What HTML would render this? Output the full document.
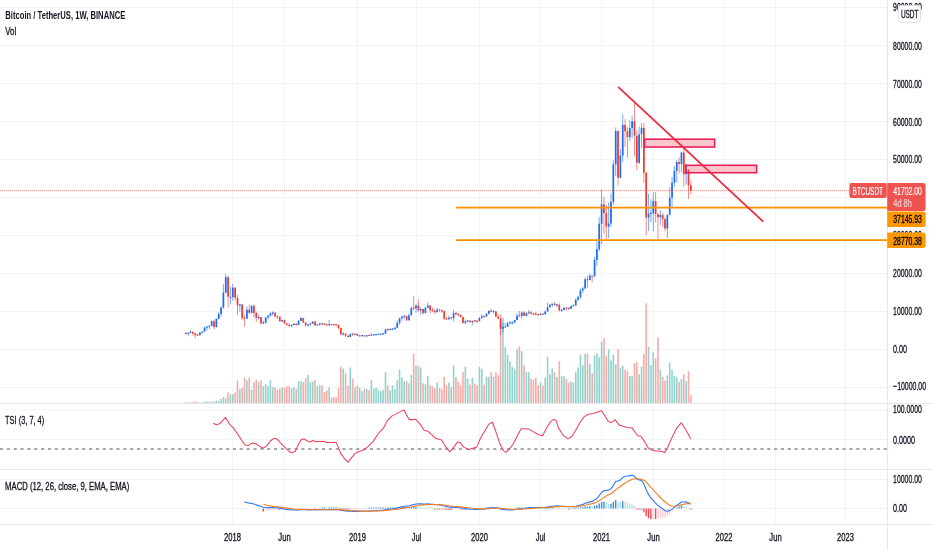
<!DOCTYPE html><html><head><meta charset="utf-8"><title>BTCUSDT</title><style>html,body{margin:0;padding:0;background:#fff}svg{display:block}</style></head><body><svg width="932" height="550" viewBox="0 0 932 550" font-family="Liberation Sans, sans-serif" font-size="11.7" fill="#131722">
<rect width="932" height="550" fill="#fff"/>
<path d="M232.5 0V524M284.5 0V524M357.5 0V524M416.5 0V524M479.5 0V524M540.5 0V524M601.5 0V524M653.5 0V524M724.0 0V524M775.5 0V524M845.5 0V524M0 387.5H887.5M0 349.5H887.5M0 311.5H887.5M0 273.5H887.5M0 235.5H887.5M0 197.5H887.5M0 159.5H887.5M0 121.5H887.5M0 83.5H887.5M0 45.5H887.5M0 7.5H887.5M0 410.0H887.5M0 439.5H887.5M0 479.5H887.5M0 508.5H887.5" stroke="#f2f4f6" stroke-width="1" fill="none"/>
<path d="M187.37 403.3v-0.8h1.6v0.8zM189.72 403.3v-0.8h1.6v0.8zM199.11 403.3v-0.8h1.6v0.8zM201.46 403.3v-0.8h1.6v0.8zM203.81 403.3v-1.5h1.6v1.5zM206.16 403.3v-1.7h1.6v1.7zM208.51 403.3v-1.5h1.6v1.5zM210.86 403.3v-1.5h1.6v1.5zM215.56 403.3v-2.5h1.6v2.5zM217.91 403.3v-2.2h1.6v2.2zM220.25 403.3v-4.2h1.6v4.2zM222.60 403.3v-6.0h1.6v6.0zM224.95 403.3v-5.0h1.6v5.0zM229.65 403.3v-9.0h1.6v9.0zM232.00 403.3v-9.0h1.6v9.0zM239.05 403.3v-14.0h1.6v14.0zM246.09 403.3v-23.0h1.6v23.0zM250.79 403.3v-13.5h1.6v13.5zM257.84 403.3v-21.0h1.6v21.0zM262.54 403.3v-17.0h1.6v17.0zM264.89 403.3v-19.0h1.6v19.0zM267.24 403.3v-17.0h1.6v17.0zM269.58 403.3v-23.0h1.6v23.0zM271.93 403.3v-16.0h1.6v16.0zM281.33 403.3v-16.0h1.6v16.0zM290.73 403.3v-15.0h1.6v15.0zM293.07 403.3v-16.0h1.6v16.0zM297.77 403.3v-22.0h1.6v22.0zM300.12 403.3v-22.0h1.6v22.0zM307.17 403.3v-28.2h1.6v28.2zM309.52 403.3v-21.0h1.6v21.0zM311.87 403.3v-21.8h1.6v21.8zM316.56 403.3v-17.0h1.6v17.0zM318.91 403.3v-18.0h1.6v18.0zM328.31 403.3v-16.0h1.6v16.0zM342.40 403.3v-34.8h1.6v34.8zM349.45 403.3v-35.8h1.6v35.8zM354.15 403.3v-16.0h1.6v16.0zM358.85 403.3v-15.5h1.6v15.5zM361.19 403.3v-12.0h1.6v12.0zM365.89 403.3v-14.5h1.6v14.5zM370.59 403.3v-23.0h1.6v23.0zM372.94 403.3v-14.5h1.6v14.5zM375.29 403.3v-15.5h1.6v15.5zM377.64 403.3v-13.5h1.6v13.5zM379.99 403.3v-12.0h1.6v12.0zM382.34 403.3v-13.5h1.6v13.5zM384.69 403.3v-31.0h1.6v31.0zM389.38 403.3v-13.0h1.6v13.0zM391.73 403.3v-18.0h1.6v18.0zM394.08 403.3v-14.0h1.6v14.0zM396.43 403.3v-23.0h1.6v23.0zM398.78 403.3v-33.8h1.6v33.8zM401.13 403.3v-25.8h1.6v25.8zM403.48 403.3v-22.0h1.6v22.0zM408.18 403.3v-20.0h1.6v20.0zM410.52 403.3v-28.2h1.6v28.2zM415.22 403.3v-37.5h1.6v37.5zM419.92 403.3v-35.8h1.6v35.8zM424.62 403.3v-19.0h1.6v19.0zM426.97 403.3v-27.0h1.6v27.0zM436.36 403.3v-20.8h1.6v20.8zM448.11 403.3v-20.8h1.6v20.8zM452.81 403.3v-37.5h1.6v37.5zM464.55 403.3v-36.5h1.6v36.5zM466.90 403.3v-24.5h1.6v24.5zM471.60 403.3v-25.5h1.6v25.5zM478.65 403.3v-36.5h1.6v36.5zM480.99 403.3v-34.5h1.6v34.5zM485.69 403.3v-26.5h1.6v26.5zM488.04 403.3v-26.5h1.6v26.5zM492.74 403.3v-26.5h1.6v26.5zM502.14 403.3v-85.5h1.6v85.5zM504.48 403.3v-56.0h1.6v56.0zM506.83 403.3v-48.5h1.6v48.5zM509.18 403.3v-42.0h1.6v42.0zM511.53 403.3v-36.5h1.6v36.5zM513.88 403.3v-34.5h1.6v34.5zM516.23 403.3v-54.0h1.6v54.0zM520.93 403.3v-52.0h1.6v52.0zM525.62 403.3v-31.0h1.6v31.0zM527.97 403.3v-31.0h1.6v31.0zM539.72 403.3v-20.8h1.6v20.8zM544.42 403.3v-25.5h1.6v25.5zM546.77 403.3v-46.8h1.6v46.8zM549.12 403.3v-29.0h1.6v29.0zM551.46 403.3v-34.8h1.6v34.8zM556.16 403.3v-26.5h1.6v26.5zM560.86 403.3v-27.0h1.6v27.0zM563.21 403.3v-27.0h1.6v27.0zM570.26 403.3v-21.8h1.6v21.8zM572.61 403.3v-20.8h1.6v20.8zM574.95 403.3v-31.0h1.6v31.0zM577.30 403.3v-35.8h1.6v35.8zM579.65 403.3v-48.7h1.6v48.7zM582.00 403.3v-38.0h1.6v38.0zM584.35 403.3v-49.5h1.6v49.5zM589.05 403.3v-39.0h1.6v39.0zM593.75 403.3v-47.8h1.6v47.8zM596.10 403.3v-50.0h1.6v50.0zM598.44 403.3v-46.0h1.6v46.0zM600.79 403.3v-61.6h1.6v61.6zM607.84 403.3v-54.0h1.6v54.0zM610.19 403.3v-43.0h1.6v43.0zM612.54 403.3v-48.6h1.6v48.6zM614.89 403.3v-39.0h1.6v39.0zM619.59 403.3v-35.6h1.6v35.6zM621.93 403.3v-37.6h1.6v37.6zM628.98 403.3v-27.4h1.6v27.4zM631.33 403.3v-27.4h1.6v27.4zM638.38 403.3v-29.0h1.6v29.0zM640.73 403.3v-36.6h1.6v36.6zM647.77 403.3v-56.6h1.6v56.6zM650.12 403.3v-38.4h1.6v38.4zM652.47 403.3v-51.0h1.6v51.0zM659.52 403.3v-33.6h1.6v33.6zM666.57 403.3v-28.0h1.6v28.0zM668.91 403.3v-41.0h1.6v41.0zM671.26 403.3v-33.6h1.6v33.6zM673.61 403.3v-27.4h1.6v27.4zM675.96 403.3v-26.0h1.6v26.0zM680.66 403.3v-24.4h1.6v24.4zM685.36 403.3v-22.0h1.6v22.0z" fill="#93d2cc"/>
<path d="M185.02 403.3v-1.0h1.6v1.0zM192.07 403.3v-1.0h1.6v1.0zM194.42 403.3v-1.7h1.6v1.7zM196.76 403.3v-1.0h1.6v1.0zM213.21 403.3v-1.7h1.6v1.7zM227.30 403.3v-10.8h1.6v10.8zM234.35 403.3v-10.8h1.6v10.8zM236.70 403.3v-22.8h1.6v22.8zM241.40 403.3v-15.5h1.6v15.5zM243.75 403.3v-25.5h1.6v25.5zM248.44 403.3v-25.5h1.6v25.5zM253.14 403.3v-21.0h1.6v21.0zM255.49 403.3v-23.7h1.6v23.7zM260.19 403.3v-23.0h1.6v23.0zM274.28 403.3v-16.0h1.6v16.0zM276.63 403.3v-13.5h1.6v13.5zM278.98 403.3v-14.5h1.6v14.5zM283.68 403.3v-15.5h1.6v15.5zM286.03 403.3v-17.0h1.6v17.0zM288.38 403.3v-17.0h1.6v17.0zM295.42 403.3v-14.5h1.6v14.5zM302.47 403.3v-21.0h1.6v21.0zM304.82 403.3v-24.8h1.6v24.8zM314.21 403.3v-23.0h1.6v23.0zM321.26 403.3v-18.0h1.6v18.0zM323.61 403.3v-11.0h1.6v11.0zM325.96 403.3v-12.8h1.6v12.8zM330.66 403.3v-6.0h1.6v6.0zM333.01 403.3v-6.0h1.6v6.0zM335.36 403.3v-6.0h1.6v6.0zM337.70 403.3v-15.5h1.6v15.5zM340.05 403.3v-36.8h1.6v36.8zM344.75 403.3v-30.0h1.6v30.0zM347.10 403.3v-18.0h1.6v18.0zM351.80 403.3v-24.8h1.6v24.8zM356.50 403.3v-18.0h1.6v18.0zM363.54 403.3v-14.5h1.6v14.5zM368.24 403.3v-13.0h1.6v13.0zM387.03 403.3v-18.0h1.6v18.0zM405.83 403.3v-22.0h1.6v22.0zM412.87 403.3v-49.5h1.6v49.5zM417.57 403.3v-37.5h1.6v37.5zM422.27 403.3v-20.0h1.6v20.0zM429.32 403.3v-18.0h1.6v18.0zM431.67 403.3v-17.0h1.6v17.0zM434.01 403.3v-15.0h1.6v15.0zM438.71 403.3v-15.5h1.6v15.5zM441.06 403.3v-14.0h1.6v14.0zM443.41 403.3v-26.2h1.6v26.2zM445.76 403.3v-18.0h1.6v18.0zM450.46 403.3v-16.0h1.6v16.0zM455.16 403.3v-26.2h1.6v26.2zM457.50 403.3v-21.8h1.6v21.8zM459.85 403.3v-18.0h1.6v18.0zM462.20 403.3v-31.0h1.6v31.0zM469.25 403.3v-18.8h1.6v18.8zM473.95 403.3v-19.8h1.6v19.8zM476.30 403.3v-18.0h1.6v18.0zM483.34 403.3v-18.8h1.6v18.8zM490.39 403.3v-31.0h1.6v31.0zM495.09 403.3v-31.0h1.6v31.0zM497.44 403.3v-28.0h1.6v28.0zM499.79 403.3v-89.0h1.6v89.0zM518.58 403.3v-57.0h1.6v57.0zM523.28 403.3v-37.5h1.6v37.5zM530.32 403.3v-24.5h1.6v24.5zM532.67 403.3v-23.5h1.6v23.5zM535.02 403.3v-25.5h1.6v25.5zM537.37 403.3v-18.0h1.6v18.0zM542.07 403.3v-18.0h1.6v18.0zM553.81 403.3v-31.0h1.6v31.0zM558.51 403.3v-42.0h1.6v42.0zM565.56 403.3v-24.5h1.6v24.5zM567.91 403.3v-20.8h1.6v20.8zM586.70 403.3v-49.5h1.6v49.5zM591.40 403.3v-30.0h1.6v30.0zM603.14 403.3v-65.0h1.6v65.0zM605.49 403.3v-47.0h1.6v47.0zM617.24 403.3v-54.0h1.6v54.0zM624.28 403.3v-33.6h1.6v33.6zM626.63 403.3v-32.6h1.6v32.6zM633.68 403.3v-40.0h1.6v40.0zM636.03 403.3v-41.0h1.6v41.0zM643.08 403.3v-49.6h1.6v49.6zM645.42 403.3v-100.0h1.6v100.0zM654.82 403.3v-45.0h1.6v45.0zM657.17 403.3v-66.0h1.6v66.0zM661.87 403.3v-26.6h1.6v26.6zM664.22 403.3v-22.6h1.6v22.6zM678.31 403.3v-21.6h1.6v21.6zM683.01 403.3v-29.0h1.6v29.0zM687.71 403.3v-32.0h1.6v32.0zM690.06 403.3v-8.0h1.6v8.0z" fill="#f8aaa7"/>
<path d="M188.17 332.27V336.28M190.52 330.43V333.53M199.91 332.46V335.32M202.26 331.50V333.58M204.61 326.70V331.91M206.96 325.75V330.06M209.31 325.68V329.11M211.66 320.36V326.29M216.36 318.33V327.54M218.71 312.07V319.56M221.06 306.26V316.82M223.40 283.82V308.84M225.75 273.97V293.47M230.45 286.51V304.55M232.80 283.93V300.75M239.85 303.88V311.58M246.89 306.45V319.06M251.59 305.25V313.67M258.64 314.33V319.62M263.34 320.62V324.27M265.69 317.17V324.08M268.04 314.87V319.46M270.38 312.12V316.52M272.73 311.34V315.72M282.13 319.61V322.48M291.53 324.46V327.22M293.87 323.22V325.37M298.57 319.98V325.15M300.92 316.93V321.27M307.97 324.04V326.86M310.32 322.98V325.56M312.67 321.46V323.93M317.36 324.12V325.70M319.71 323.20V325.64M329.11 320.02V325.45M343.20 332.29V335.52M350.25 333.25V337.12M354.95 333.66V335.41M359.65 335.06V336.13M362.00 335.44V336.15M366.69 335.05V336.36M371.39 333.25V335.48M373.74 334.38V335.22M376.09 334.04V335.25M378.44 333.81V334.76M380.79 333.71V334.38M383.14 333.47V334.57M385.49 328.89V333.70M390.18 328.83V330.39M392.53 327.84V330.01M394.88 327.01V329.82M397.23 320.37V328.07M399.58 317.53V324.88M401.93 315.99V320.91M404.28 314.66V318.95M408.98 313.53V320.70M411.32 306.58V315.38M416.02 303.60V312.67M420.72 307.10V314.81M425.42 306.98V313.67M427.77 302.38V307.78M437.16 307.78V312.34M448.91 315.76V319.71M453.61 309.79V321.46M465.35 319.29V324.44M467.70 320.09V322.30M472.40 320.89V324.75M479.45 317.07V321.31M481.79 314.29V318.80M486.49 312.83V316.79M488.84 310.52V314.47M493.54 310.25V313.48M502.94 322.98V332.48M505.28 322.76V327.54M507.63 321.84V326.97M509.98 320.85V323.55M512.33 321.46V324.69M514.68 319.80V323.55M517.03 313.25V320.21M521.73 311.39V318.42M526.42 312.19V316.41M528.77 309.76V313.97M540.52 313.19V315.38M545.22 310.63V314.51M547.57 303.13V311.58M549.91 303.79V307.59M552.26 303.33V306.93M556.96 304.17V307.02M561.66 309.00V311.87M564.01 306.72V310.36M571.06 305.54V309.20M573.40 304.63V306.75M575.75 298.47V305.88M578.10 295.62V300.64M580.45 288.51V299.04M582.80 286.58V292.96M585.15 277.13V288.89M589.85 273.52V280.42M594.55 256.86V277.00M596.89 241.20V265.98M599.24 216.96V251.16M601.59 189.79V243.94M608.64 202.78V238.08M610.99 193.57V226.48M613.34 160.31V204.85M615.69 127.46V176.03M620.38 149.17V178.39M622.73 114.19V161.96M629.78 120.44V140.96M632.13 115.50V138.40M639.18 126.71V163.94M641.53 123.10V148.18M648.57 194.00V230.98M650.92 199.19V222.36M653.27 192.15V231.40M660.32 210.12V224.94M667.37 214.69V237.94M669.71 187.32V215.42M672.06 177.02V207.34M674.41 166.25V186.64M676.76 159.88V182.17M681.46 151.98V172.45M686.16 163.60V184.39" stroke="#1f6cf3" stroke-width="0.8" stroke-opacity="0.75" fill="none"/>
<path d="M187.32 332.65H189.02V333.85H187.32zM189.67 331.84H191.37V333.04H189.67zM199.06 332.56H200.76V335.29H199.06zM201.41 331.47H203.11V332.67H201.41zM203.76 327.50H205.46V331.57H203.76zM206.11 326.45H207.81V327.65H206.11zM208.46 325.57H210.16V326.77H208.46zM210.81 321.29H212.51V325.75H210.81zM215.51 318.77H217.21V327.12H215.51zM217.86 313.97H219.56V318.77H217.86zM220.21 307.49H221.91V313.97H220.21zM222.55 292.58H224.25V307.49H222.55zM224.90 277.17H226.60V292.58H224.90zM229.60 296.89H231.30V298.09H229.60zM231.95 287.83H233.65V297.08H231.95zM239.00 304.35H240.70V305.55H239.00zM246.04 309.74H247.74V318.56H246.04zM250.74 305.64H252.44V312.76H250.74zM257.79 316.99H259.49V318.19H257.79zM262.49 322.32H264.19V323.52H262.49zM264.84 317.52H266.54V322.54H264.84zM267.19 315.81H268.89V317.52H267.19zM269.53 313.51H271.23V315.81H269.53zM271.88 312.46H273.58V313.66H271.88zM281.28 319.93H282.98V321.32H281.28zM290.68 324.87H292.38V326.07H290.68zM293.02 323.69H294.72V325.10H293.02zM297.72 321.10H299.42V325.07H297.72zM300.07 317.98H301.77V321.10H300.07zM307.12 324.31H308.82V325.51H307.12zM309.47 323.58H311.17V324.78H309.47zM311.82 321.52H313.52V323.78H311.82zM316.51 324.42H318.21V325.62H316.51zM318.86 323.54H320.56V324.74H318.86zM328.26 324.30H329.96V325.50H328.26zM342.35 333.33H344.05V334.53H342.35zM349.40 334.26H351.10V337.09H349.40zM354.10 333.66H355.80V334.86H354.10zM358.80 335.21H360.50V336.41H358.80zM361.14 335.12H362.85V336.32H361.14zM365.84 335.18H367.54V336.38H365.84zM370.54 334.61H372.24V335.81H370.54zM372.89 334.32H374.59V335.52H372.89zM375.24 333.99H376.94V335.19H375.24zM377.59 333.64H379.29V334.84H377.59zM379.94 333.50H381.64V334.70H379.94zM382.29 333.26H383.99V334.46H382.29zM384.63 329.55H386.34V333.65H384.63zM389.33 328.86H391.03V330.06H389.33zM391.68 328.58H393.38V329.78H391.68zM394.03 327.66H395.73V329.14H394.03zM396.38 322.72H398.08V327.66H396.38zM398.73 318.20H400.43V322.72H398.73zM401.08 316.47H402.78V318.20H401.08zM403.43 315.65H405.13V316.85H403.43zM408.12 315.15H409.83V320.22H408.12zM410.47 308.11H412.17V315.15H410.47zM415.17 305.59H416.87V308.30H415.17zM419.87 308.97H421.57V310.48H419.87zM424.57 307.67H426.27V312.99H424.57zM426.92 305.39H428.62V307.67H426.92zM436.31 309.75H438.01V312.25H436.31zM448.06 317.72H449.76V319.35H448.06zM452.76 312.99H454.46V317.95H452.76zM464.50 321.14H466.20V322.97H464.50zM466.85 320.30H468.55V321.50H466.85zM471.55 320.70H473.25V322.15H471.55zM478.60 318.10H480.30V321.24H478.60zM480.94 316.14H482.64V318.10H480.94zM485.64 313.74H487.34V316.49H485.64zM487.99 310.63H489.69V313.74H487.99zM492.69 310.88H494.39V312.08H492.69zM502.09 327.10H503.79V328.83H502.09zM504.43 326.38H506.13V327.58H504.43zM506.78 323.47H508.48V326.85H506.78zM509.13 322.62H510.83V323.82H509.13zM511.48 321.95H513.18V323.15H511.48zM513.83 319.97H515.53V322.14H513.83zM516.18 315.40H517.88V319.97H516.18zM520.88 312.46H522.58V316.06H520.88zM525.57 313.30H527.27V316.08H525.57zM527.92 312.13H529.62V313.33H527.92zM539.67 313.69H541.37V314.89H539.67zM544.37 311.46H546.07V314.21H544.37zM546.72 307.13H548.42V311.46H546.72zM549.06 304.81H550.76V307.13H549.06zM551.41 303.78H553.11V304.98H551.41zM556.11 304.22H557.81V305.42H556.11zM560.81 309.49H562.51V310.69H560.81zM563.16 307.70H564.86V309.95H563.16zM570.21 306.00H571.91V308.67H570.21zM572.55 305.14H574.25V306.34H572.55zM574.90 299.70H576.60V305.49H574.90zM577.25 296.91H578.95V299.70H577.25zM579.60 290.39H581.30V296.91H579.60zM581.95 288.56H583.65V290.39H581.95zM584.30 279.23H586.00V288.56H584.30zM589.00 275.64H590.70V280.10H589.00zM593.70 260.07H595.40V276.34H593.70zM596.04 249.33H597.75V260.07H596.04zM598.39 223.80H600.09V249.33H598.39zM600.74 204.23H602.44V223.80H600.74zM607.79 223.45H609.49V226.61H607.79zM610.14 201.78H611.84V223.45H610.14zM612.49 164.61H614.19V201.78H612.49zM614.84 131.05H616.54V164.61H614.84zM619.53 155.51H621.24V177.69H619.53zM621.88 125.12H623.58V155.51H621.88zM628.93 128.03H630.63V137.25H628.93zM631.28 121.21H632.98V128.03H631.28zM638.33 134.20H640.03V162.75H638.33zM640.68 127.89H642.38V134.20H640.68zM647.72 213.76H649.42V217.51H647.72zM650.07 212.87H651.77V214.07H650.07zM652.42 200.92H654.12V213.18H652.42zM659.47 215.11H661.17V217.34H659.47zM666.51 214.75H668.22V228.44H666.51zM668.86 197.79H670.56V214.75H668.86zM671.21 182.78H672.91V197.79H671.21zM673.56 170.63H675.26V182.78H673.56zM675.91 162.09H677.61V170.63H675.91zM680.61 152.53H682.31V163.89H680.61zM685.31 169.68H687.01V174.30H685.31z" fill="#1f6cf3"/>
<path d="M185.82 332.16V334.57M192.87 331.01V335.51M195.22 332.50V338.50M197.56 333.53V335.88M214.01 319.67V328.96M228.10 275.86V307.55M235.15 287.18V300.51M237.50 295.05V314.87M242.20 304.13V319.94M244.55 314.75V326.40M249.24 304.41V313.94M253.94 304.76V317.55M256.29 311.63V321.69M260.99 316.90V324.77M275.08 312.49V317.95M277.43 315.46V319.08M279.78 316.54V321.79M284.48 319.64V323.94M286.83 322.94V325.89M289.18 323.20V327.24M296.22 323.29V326.13M303.27 317.76V323.05M305.62 321.99V326.51M315.01 321.04V325.98M322.06 323.36V325.16M324.41 323.74V324.88M326.76 323.66V326.02M331.46 324.31V324.99M333.81 324.50V325.64M336.16 324.04V325.26M338.50 324.69V329.25M340.85 327.84V335.32M345.55 333.32V336.96M347.90 335.37V337.21M352.60 333.05V335.71M357.30 333.73V336.03M364.34 335.63V336.47M369.04 335.14V335.75M387.83 328.41V330.58M406.63 315.76V320.91M413.67 296.11V310.06M418.37 299.24V311.75M423.07 308.58V314.62M430.12 305.20V313.23M432.47 307.59V312.15M434.81 308.69V313.78M439.51 309.38V311.77M441.86 309.76V312.72M444.21 311.01V319.94M446.56 316.77V319.94M451.26 317.24V319.56M455.96 311.47V315.19M458.30 313.10V316.29M460.65 314.71V317.47M463.00 316.86V323.40M470.05 320.13V322.60M474.75 319.98V322.41M477.10 320.72V323.16M484.14 315.97V317.98M491.19 309.30V312.34M495.89 311.20V317.28M498.24 314.29V318.80M500.59 318.12V334.83M519.38 310.95V316.82M524.08 311.35V315.76M531.12 311.20V314.70M533.47 312.76V315.34M535.82 312.04V315.38M538.17 313.86V315.65M542.87 313.71V315.00M554.61 301.82V305.99M559.31 303.41V311.68M566.36 307.44V310.71M568.71 307.59V309.79M587.50 275.16V287.64M592.20 275.40V282.32M603.94 196.82V233.60M606.29 204.99V239.57M618.04 130.41V185.74M625.08 118.79V146.96M627.43 127.11V158.04M634.48 102.75V155.66M636.83 130.32V170.43M643.88 123.10V182.66M646.22 171.79V235.20M655.62 192.15V222.52M657.97 213.35V239.74M662.67 212.63V227.31M665.02 217.42V231.32M679.11 157.30V173.45M683.81 148.10V186.40M688.51 169.28V198.72M690.86 180.67V194.35" stroke="#ee3a31" stroke-width="0.8" stroke-opacity="0.75" fill="none"/>
<path d="M184.97 332.74H186.67V333.94H184.97zM192.02 332.07H193.72V333.51H192.02zM194.37 333.51H196.07V335.14H194.37zM196.72 334.62H198.41V335.82H196.72zM213.16 321.29H214.86V327.12H213.16zM227.25 277.17H228.95V296.64H227.25zM234.30 287.83H236.00V298.00H234.30zM236.65 298.00H238.35V305.39H236.65zM241.35 304.51H243.05V317.97H241.35zM243.70 317.67H245.40V318.87H243.70zM248.39 309.74H250.09V312.76H248.39zM253.09 305.64H254.79V312.97H253.09zM255.44 312.97H257.14V318.08H255.44zM260.14 317.09H261.84V323.31H260.14zM274.23 312.61H275.93V316.18H274.23zM276.58 315.92H278.28V317.12H276.58zM278.93 316.85H280.63V321.32H278.93zM283.63 319.93H285.33V323.47H283.63zM285.98 323.47H287.68V324.69H285.98zM288.33 324.66H290.03V325.86H288.33zM295.37 323.69H297.07V325.07H295.37zM302.42 317.98H304.12V322.50H302.42zM304.77 322.50H306.47V325.23H304.77zM314.16 321.52H315.87V325.50H314.16zM321.21 323.32H322.91V324.52H321.21zM323.56 323.54H325.26V324.74H323.56zM325.91 324.13H327.61V325.33H325.91zM330.61 323.98H332.31V325.18H330.61zM332.96 324.11H334.66V325.31H332.96zM335.31 324.24H337.01V325.44H335.31zM337.65 324.91H339.36V328.09H337.65zM340.00 328.09H341.70V334.27H340.00zM344.70 333.59H346.40V335.73H344.70zM347.05 335.73H348.75V337.09H347.05zM351.75 333.87H353.45V335.07H351.75zM356.45 333.85H358.15V335.87H356.45zM363.49 335.35H365.19V336.55H363.49zM368.19 334.77H369.89V335.97H368.19zM386.98 329.03H388.68V330.23H386.98zM405.78 316.04H407.48V320.22H405.78zM412.82 307.61H414.52V308.81H412.82zM417.52 305.59H419.22V310.48H417.52zM422.22 308.97H423.92V312.99H422.22zM429.27 305.39H430.97V310.04H429.27zM431.62 309.76H433.32V310.96H431.62zM433.96 310.69H435.66V312.25H433.96zM438.66 309.30H440.36V310.50H438.66zM441.01 309.98H442.71V311.18H441.01zM443.36 311.11H445.06V318.65H443.36zM445.71 318.40H447.41V319.60H445.71zM450.41 317.24H452.11V318.44H450.41zM455.11 312.99H456.81V314.22H455.11zM457.45 313.95H459.15V315.15H457.45zM459.80 314.87H461.50V316.89H459.80zM462.15 316.89H463.85V322.97H462.15zM469.20 320.66H470.90V322.15H469.20zM473.90 320.31H475.60V321.51H473.90zM476.25 320.58H477.95V321.78H476.25zM483.29 315.71H484.99V316.91H483.29zM490.34 310.47H492.04V311.67H490.34zM495.04 311.44H496.74V316.81H495.04zM497.39 316.81H499.09V318.67H497.39zM499.74 318.67H501.44V328.83H499.74zM518.53 315.13H520.23V316.33H518.53zM523.23 312.46H524.93V316.08H523.23zM530.27 312.17H531.97V313.70H530.27zM532.62 313.19H534.32V314.39H532.62zM534.97 313.62H536.67V314.82H534.97zM537.32 314.05H539.02V315.25H537.32zM542.02 313.43H543.72V314.63H542.02zM553.76 303.84H555.46V305.04H553.76zM558.46 304.70H560.16V310.23H558.46zM565.51 307.38H567.21V308.58H565.51zM567.86 307.86H569.56V309.06H567.86zM586.65 279.06H588.35V280.26H586.65zM591.35 275.39H593.05V276.59H591.35zM603.09 204.23H604.79V213.05H603.09zM605.44 213.05H607.14V226.61H605.44zM617.19 131.05H618.89V177.69H617.19zM624.23 125.12H625.93V131.27H624.23zM626.58 131.27H628.28V137.25H626.58zM633.63 121.21H635.33V135.83H633.63zM635.98 135.83H637.68V162.75H635.98zM643.02 127.89H644.73V172.76H643.02zM645.37 172.76H647.07V217.51H645.37zM654.77 200.92H656.47V213.92H654.77zM657.12 213.92H658.82V217.34H657.12zM661.82 215.11H663.52V219.02H661.82zM664.17 219.02H665.87V228.44H664.17zM678.26 162.09H679.96V163.89H678.26zM682.96 152.53H684.66V174.30H682.96zM687.66 169.68H689.36V185.19H687.66zM690.00 185.19H691.71V190.73H690.00z" fill="#ee3a31"/>
<path d="M0 190.6H887.5" stroke="#ef5350" stroke-width="1" stroke-opacity="0.7" stroke-dasharray="1 1" fill="none"/>
<path d="M456 207.6H887.5M456 240.1H887.5" stroke="#ff9100" stroke-width="1.8" fill="none"/>
<rect x="644.6" y="139.2" width="70" height="7.8" fill="#f23645" fill-opacity="0.27" stroke="#e91e5c" stroke-width="1.6"/>
<rect x="685.8" y="165.3" width="70.8" height="7.4" fill="#f23645" fill-opacity="0.27" stroke="#e91e5c" stroke-width="1.6"/>
<path d="M618.1 86.8L763.2 221.7" stroke="#ee2a3e" stroke-width="1.8" fill="none"/>
<path d="M0 449H887.5" stroke="#858a9a" stroke-width="1.7" stroke-dasharray="3.1 3.75" fill="none"/>
<path d="M213.4 423.3L216.9 424.9L220.1 423.3L225.5 417.4L229.5 424.1L233.5 428.1L237.6 434.0L241.6 440.2L245.1 445.0L248.3 445.6L252.3 442.9L255.8 443.7L259.5 446.1L263.0 448.3L267.1 445.6L270.3 441.0L273.8 438.3L277.0 438.9L280.5 442.9L284.5 446.9L288.5 450.9L291.2 452.8L295.2 451.5L297.9 445.6L301.4 439.4L304.1 438.9L307.3 441.0L310.0 442.1L312.7 440.5L315.9 441.8L319.4 441.6L323.4 441.3L326.6 442.4L331.4 442.4L336.3 442.6L338.1 446.9L340.8 453.6L344.8 459.0L348.1 462.2L351.6 457.6L355.0 453.6L358.3 451.7L363.6 450.1L367.7 446.9L373.0 441.6L378.4 433.5L383.7 427.6L387.8 420.1L391.8 416.1L397.2 413.4L403.9 409.9L406.5 414.7L409.2 419.6L413.3 419.6L415.9 419.3L420.0 424.1L424.0 430.0L428.0 431.4L432.0 434.8L435.5 438.3L439.5 439.4L441.4 439.7L445.4 446.4L449.5 451.7L450.0 451.7L454.0 446.9L457.5 442.1L460.2 442.4L463.4 446.9L468.8 449.6L472.8 448.3L476.8 446.9L480.8 437.5L484.9 430.8L488.9 424.1L492.4 422.2L495.6 430.8L499.6 442.9L503.6 450.9L505.8 452.3L509.0 449.6L513.0 444.2L517.1 436.2L521.1 428.7L525.1 428.7L528.3 428.9L533.2 431.6L538.5 434.8L542.5 435.7L546.6 428.1L550.6 421.4L553.3 419.6L556.0 420.1L558.6 428.1L562.7 434.8L568.0 438.9L572.0 436.2L576.1 429.5L580.1 422.2L584.1 416.9L588.1 414.2L593.5 413.4L597.5 412.0L601.6 410.7L604.2 414.7L608.3 421.4L610.9 422.8L615.0 419.6L619.0 424.9L623.0 426.3L627.0 427.6L632.4 428.1L635.1 432.2L637.8 435.7L641.0 436.2L644.5 441.6L648.5 448.3L652.5 450.4L656.5 450.9L661.9 451.5L664.6 452.6L667.3 448.3L671.3 438.9L676.7 428.1L681.2 422.8L684.7 428.1L688.2 434.0L690.6 438.9" stroke="#f0405c" stroke-width="1.05" fill="none" stroke-linejoin="round"/>
<path d="M321.36 508.5v-0.90h1.4v0.90zM323.71 508.5v-0.90h1.4v0.90zM328.41 508.5v-0.90h1.4v0.90zM330.76 508.5v-0.90h1.4v0.90zM333.11 508.5v-0.90h1.4v0.90zM335.46 508.5v-0.90h1.4v0.90zM368.34 508.5v-0.90h1.4v0.90zM370.69 508.5v-0.90h1.4v0.90zM373.04 508.5v-0.90h1.4v0.90zM375.39 508.5v-0.90h1.4v0.90zM377.74 508.5v-0.90h1.4v0.90zM380.09 508.5v-0.90h1.4v0.90zM382.44 508.5v-0.90h1.4v0.90zM384.79 508.5v-0.90h1.4v0.90zM387.13 508.5v-0.90h1.4v0.90zM389.48 508.5v-0.91h1.4v0.91zM391.83 508.5v-0.93h1.4v0.93zM394.18 508.5v-0.97h1.4v0.97zM396.53 508.5v-1.20h1.4v1.20zM398.88 508.5v-1.52h1.4v1.52zM401.23 508.5v-1.73h1.4v1.73zM403.58 508.5v-1.79h1.4v1.79zM410.62 508.5v-1.78h1.4v1.78zM412.97 508.5v-1.82h1.4v1.82zM415.32 508.5v-1.87h1.4v1.87zM485.79 508.5v-0.90h1.4v0.90zM488.14 508.5v-0.90h1.4v0.90zM490.49 508.5v-0.90h1.4v0.90zM492.84 508.5v-0.90h1.4v0.90zM516.33 508.5v-0.90h1.4v0.90zM518.68 508.5v-0.90h1.4v0.90zM521.03 508.5v-0.90h1.4v0.90zM525.72 508.5v-0.90h1.4v0.90zM528.07 508.5v-0.90h1.4v0.90zM544.52 508.5v-0.90h1.4v0.90zM546.87 508.5v-0.90h1.4v0.90zM549.21 508.5v-0.90h1.4v0.90zM551.56 508.5v-0.93h1.4v0.93zM572.70 508.5v-0.90h1.4v0.90zM575.05 508.5v-0.90h1.4v0.90zM577.40 508.5v-0.90h1.4v0.90zM579.75 508.5v-1.05h1.4v1.05zM582.10 508.5v-1.36h1.4v1.36zM584.45 508.5v-1.92h1.4v1.92zM586.80 508.5v-2.09h1.4v2.09zM589.15 508.5v-2.28h1.4v2.28zM593.85 508.5v-2.81h1.4v2.81zM596.19 508.5v-3.53h1.4v3.53zM598.54 508.5v-5.02h1.4v5.02zM600.89 508.5v-6.59h1.4v6.59zM603.24 508.5v-6.71h1.4v6.71zM610.29 508.5v-4.87h1.4v4.87zM612.64 508.5v-6.43h1.4v6.43zM614.99 508.5v-8.59h1.4v8.59zM622.03 508.5v-7.25h1.4v7.25zM676.06 508.5v-0.90h1.4v0.90zM678.41 508.5v-1.79h1.4v1.79zM680.76 508.5v-2.86h1.4v2.86z" fill="#3a8fd6"/>
<path d="M326.06 508.5v-0.90h1.4v0.90zM405.93 508.5v-1.52h1.4v1.52zM408.28 508.5v-1.52h1.4v1.52zM417.67 508.5v-1.53h1.4v1.53zM420.02 508.5v-1.29h1.4v1.29zM422.37 508.5v-0.90h1.4v0.90zM424.72 508.5v-0.90h1.4v0.90zM427.07 508.5v-0.90h1.4v0.90zM429.42 508.5v-0.90h1.4v0.90zM431.77 508.5v-0.90h1.4v0.90zM495.19 508.5v-0.90h1.4v0.90zM497.54 508.5v-0.90h1.4v0.90zM523.38 508.5v-0.90h1.4v0.90zM530.42 508.5v-0.90h1.4v0.90zM532.77 508.5v-0.90h1.4v0.90zM535.12 508.5v-0.90h1.4v0.90zM537.47 508.5v-0.90h1.4v0.90zM539.82 508.5v-0.90h1.4v0.90zM542.17 508.5v-0.90h1.4v0.90zM553.91 508.5v-0.91h1.4v0.91zM556.26 508.5v-0.90h1.4v0.90zM558.61 508.5v-0.90h1.4v0.90zM560.96 508.5v-0.90h1.4v0.90zM563.31 508.5v-0.90h1.4v0.90zM565.66 508.5v-0.90h1.4v0.90zM591.50 508.5v-2.21h1.4v2.21zM605.59 508.5v-5.65h1.4v5.65zM607.94 508.5v-4.73h1.4v4.73zM617.34 508.5v-7.00h1.4v7.00zM619.68 508.5v-6.55h1.4v6.55zM624.38 508.5v-6.79h1.4v6.79zM626.73 508.5v-5.60h1.4v5.60zM629.08 508.5v-4.79h1.4v4.79zM631.43 508.5v-4.11h1.4v4.11zM633.78 508.5v-2.47h1.4v2.47zM683.11 508.5v-2.25h1.4v2.25zM685.46 508.5v-1.95h1.4v1.95zM687.81 508.5v-0.90h1.4v0.90z" fill="#b4e0da"/>
<path d="M264.99 508.5v2.53h1.4v-2.53zM267.34 508.5v2.12h1.4v-2.12zM269.68 508.5v1.65h1.4v-1.65zM272.03 508.5v1.26h1.4v-1.26zM274.38 508.5v1.14h1.4v-1.14zM276.73 508.5v1.06h1.4v-1.06zM281.43 508.5v1.16h1.4v-1.16zM290.83 508.5v1.28h1.4v-1.28zM293.17 508.5v1.09h1.4v-1.09zM295.52 508.5v0.97h1.4v-0.97zM297.87 508.5v0.90h1.4v-0.90zM300.22 508.5v0.90h1.4v-0.90zM302.57 508.5v0.90h1.4v-0.90zM307.27 508.5v0.90h1.4v-0.90zM309.62 508.5v0.90h1.4v-0.90zM311.97 508.5v0.90h1.4v-0.90zM316.66 508.5v0.90h1.4v-0.90zM319.01 508.5v0.90h1.4v-0.90zM349.55 508.5v0.90h1.4v-0.90zM351.90 508.5v0.90h1.4v-0.90zM354.25 508.5v0.90h1.4v-0.90zM356.60 508.5v0.90h1.4v-0.90zM358.95 508.5v0.90h1.4v-0.90zM361.30 508.5v0.90h1.4v-0.90zM363.64 508.5v0.90h1.4v-0.90zM365.99 508.5v0.90h1.4v-0.90zM452.91 508.5v1.07h1.4v-1.07zM455.26 508.5v0.92h1.4v-0.92zM457.60 508.5v0.90h1.4v-0.90zM467.00 508.5v1.11h1.4v-1.11zM469.35 508.5v1.10h1.4v-1.10zM471.70 508.5v0.97h1.4v-0.97zM474.05 508.5v0.90h1.4v-0.90zM476.40 508.5v0.90h1.4v-0.90zM478.75 508.5v0.90h1.4v-0.90zM481.09 508.5v0.90h1.4v-0.90zM483.44 508.5v0.90h1.4v-0.90zM506.93 508.5v0.90h1.4v-0.90zM509.28 508.5v0.90h1.4v-0.90zM511.63 508.5v0.90h1.4v-0.90zM513.98 508.5v0.90h1.4v-0.90zM570.36 508.5v0.90h1.4v-0.90zM652.57 508.5v10.45h1.4v-10.45zM657.27 508.5v10.30h1.4v-10.30zM659.62 508.5v9.64h1.4v-9.64zM661.97 508.5v9.02h1.4v-9.02zM664.32 508.5v8.71h1.4v-8.71zM666.66 508.5v7.43h1.4v-7.43zM669.01 508.5v5.43h1.4v-5.43zM671.36 508.5v3.18h1.4v-3.18zM673.71 508.5v1.01h1.4v-1.01z" fill="#fccdd2"/>
<path d="M262.64 508.5v2.90h1.4v-2.90zM279.08 508.5v1.19h1.4v-1.19zM283.78 508.5v1.26h1.4v-1.26zM286.13 508.5v1.33h1.4v-1.33zM288.48 508.5v1.36h1.4v-1.36zM304.92 508.5v0.90h1.4v-0.90zM314.31 508.5v0.90h1.4v-0.90zM337.81 508.5v0.90h1.4v-0.90zM340.15 508.5v0.90h1.4v-0.90zM342.50 508.5v0.90h1.4v-0.90zM344.85 508.5v0.90h1.4v-0.90zM347.20 508.5v0.91h1.4v-0.91zM434.11 508.5v0.90h1.4v-0.90zM436.46 508.5v0.90h1.4v-0.90zM438.81 508.5v0.90h1.4v-0.90zM441.16 508.5v0.90h1.4v-0.90zM443.51 508.5v0.96h1.4v-0.96zM445.86 508.5v1.27h1.4v-1.27zM448.21 508.5v1.35h1.4v-1.35zM450.56 508.5v1.36h1.4v-1.36zM459.95 508.5v0.90h1.4v-0.90zM462.30 508.5v1.12h1.4v-1.12zM464.65 508.5v1.16h1.4v-1.16zM499.89 508.5v0.90h1.4v-0.90zM502.24 508.5v0.90h1.4v-0.90zM504.58 508.5v1.04h1.4v-1.04zM568.01 508.5v0.90h1.4v-0.90zM636.13 508.5v0.90h1.4v-0.90zM638.48 508.5v0.90h1.4v-0.90zM640.83 508.5v1.13h1.4v-1.13zM643.17 508.5v3.75h1.4v-3.75zM645.52 508.5v7.69h1.4v-7.69zM647.87 508.5v9.81h1.4v-9.81zM650.22 508.5v10.81h1.4v-10.81zM654.92 508.5v10.50h1.4v-10.50zM690.15 508.5v0.90h1.4v-0.90z" fill="#f6454f"/>
<path d="M244.5 501.9L246.9 502.5L249.2 503.2L251.6 503.4L253.9 504.0L256.3 504.9L258.6 505.6L261.0 506.5L263.3 507.3L265.7 507.5L268.0 507.6L270.4 507.6L272.7 507.5L275.1 507.7L277.4 507.9L279.8 508.3L282.1 508.5L284.5 509.0L286.8 509.4L289.2 509.7L291.5 510.0L293.9 510.0L296.2 510.2L298.6 510.0L300.9 509.7L303.3 509.7L305.6 509.8L308.0 509.9L310.3 509.9L312.7 509.7L315.0 509.8L317.4 509.8L319.7 509.8L322.1 509.7L324.4 509.7L326.8 509.7L329.1 509.7L331.5 509.6L333.8 509.6L336.2 509.6L338.5 509.7L340.9 510.2L343.2 510.6L345.6 510.9L347.9 511.3L350.2 511.3L352.6 511.4L354.9 511.3L357.3 511.4L359.6 511.4L362.0 511.3L364.3 511.3L366.7 511.2L369.0 511.1L371.4 511.0L373.7 510.8L376.1 510.6L378.4 510.5L380.8 510.3L383.1 510.1L385.5 509.7L387.8 509.4L390.2 509.1L392.5 508.8L394.9 508.6L397.2 508.0L399.6 507.3L401.9 506.7L404.3 506.2L406.6 506.1L409.0 505.7L411.3 505.0L413.7 504.5L416.0 504.0L418.4 503.9L420.7 503.9L423.1 504.1L425.4 504.0L427.8 503.8L430.1 504.1L432.5 504.3L434.8 504.7L437.2 504.8L439.5 505.0L441.9 505.3L444.2 506.0L446.6 506.6L448.9 507.0L451.3 507.4L453.6 507.3L456.0 507.4L458.3 507.5L460.7 507.7L463.0 508.3L465.4 508.6L467.7 508.9L470.0 509.1L472.4 509.2L474.7 509.4L477.1 509.4L479.4 509.3L481.8 509.0L484.1 508.9L486.5 508.6L488.8 508.1L491.2 507.8L493.5 507.6L495.9 507.8L498.2 508.0L500.6 508.9L502.9 509.4L505.3 509.8L507.6 509.9L510.0 509.9L512.3 509.9L514.7 509.7L517.0 509.3L519.4 508.9L521.7 508.5L524.1 508.3L526.4 508.0L528.8 507.7L531.1 507.6L533.5 507.5L535.8 507.5L538.2 507.5L540.5 507.5L542.9 507.5L545.2 507.4L547.6 507.0L549.9 506.6L552.3 506.2L554.6 506.0L557.0 505.9L559.3 506.1L561.7 506.3L564.0 506.4L566.4 506.5L568.7 506.6L571.1 506.6L573.4 506.5L575.8 506.2L578.1 505.7L580.5 505.0L582.8 504.4L585.2 503.3L587.5 502.6L589.8 501.9L592.2 501.4L594.5 500.1L596.9 498.5L599.2 495.7L601.6 492.5L603.9 490.7L606.3 490.4L608.6 490.1L611.0 488.7L613.3 485.6L615.7 481.3L618.0 481.1L620.4 479.9L622.7 477.4L625.1 476.2L627.4 476.0L629.8 475.6L632.1 475.2L634.5 476.2L636.8 479.1L639.2 479.9L641.5 480.4L643.9 484.0L646.2 489.8L648.6 494.4L650.9 498.1L653.3 500.4L655.6 503.1L658.0 505.4L660.3 507.2L662.7 508.8L665.0 510.7L667.4 511.2L669.7 510.6L672.1 509.1L674.4 507.2L676.8 505.2L679.1 503.8L681.5 502.0L683.8 502.0L686.2 501.9L688.5 502.8L690.9 503.9" stroke="#3179f5" stroke-width="1.1" fill="none" stroke-linejoin="round"/>
<path d="M263.3 504.3L265.7 505.0L268.0 505.5L270.4 505.9L272.7 506.2L275.1 506.5L277.4 506.8L279.8 507.1L282.1 507.4L284.5 507.7L286.8 508.0L289.2 508.4L291.5 508.7L293.9 509.0L296.2 509.2L298.6 509.4L300.9 509.4L303.3 509.5L305.6 509.5L308.0 509.6L310.3 509.7L312.7 509.7L315.0 509.7L317.4 509.7L319.7 509.7L322.1 509.7L324.4 509.7L326.8 509.7L329.1 509.7L331.5 509.7L333.8 509.7L336.2 509.7L338.5 509.7L340.9 509.8L343.2 509.9L345.6 510.1L347.9 510.4L350.2 510.6L352.6 510.7L354.9 510.8L357.3 510.9L359.6 511.0L362.0 511.1L364.3 511.1L366.7 511.2L369.0 511.1L371.4 511.1L373.7 511.0L376.1 511.0L378.4 510.9L380.8 510.8L383.1 510.6L385.5 510.4L387.8 510.2L390.2 510.0L392.5 509.8L394.9 509.5L397.2 509.2L399.6 508.8L401.9 508.4L404.3 508.0L406.6 507.6L409.0 507.2L411.3 506.8L413.7 506.3L416.0 505.8L418.4 505.5L420.7 505.1L423.1 504.9L425.4 504.7L427.8 504.6L430.1 504.5L432.5 504.4L434.8 504.5L437.2 504.5L439.5 504.6L441.9 504.8L444.2 505.0L446.6 505.3L448.9 505.7L451.3 506.0L453.6 506.3L456.0 506.5L458.3 506.7L460.7 506.9L463.0 507.2L465.4 507.5L467.7 507.8L470.0 508.0L472.4 508.3L474.7 508.5L477.1 508.7L479.4 508.8L481.8 508.9L484.1 508.9L486.5 508.8L488.8 508.7L491.2 508.5L493.5 508.3L495.9 508.2L498.2 508.2L500.6 508.3L502.9 508.5L505.3 508.8L507.6 509.0L510.0 509.2L512.3 509.3L514.7 509.4L517.0 509.4L519.4 509.3L521.7 509.1L524.1 509.0L526.4 508.8L528.8 508.6L531.1 508.4L533.5 508.2L535.8 508.1L538.2 508.0L540.5 507.9L542.9 507.8L545.2 507.7L547.6 507.6L549.9 507.4L552.3 507.1L554.6 506.9L557.0 506.7L559.3 506.6L561.7 506.5L564.0 506.5L566.4 506.5L568.7 506.5L571.1 506.5L573.4 506.5L575.8 506.5L578.1 506.3L580.5 506.1L582.8 505.7L585.2 505.2L587.5 504.7L589.8 504.1L592.2 503.6L594.5 502.9L596.9 502.0L599.2 500.7L601.6 499.1L603.9 497.4L606.3 496.0L608.6 494.8L611.0 493.6L613.3 492.0L615.7 489.9L618.0 488.1L620.4 486.5L622.7 484.7L625.1 483.0L627.4 481.6L629.8 480.4L632.1 479.3L634.5 478.7L636.8 478.8L639.2 479.0L641.5 479.3L643.9 480.2L646.2 482.2L648.6 484.6L650.9 487.3L653.3 489.9L655.6 492.5L658.0 495.1L660.3 497.5L662.7 499.8L665.0 502.0L667.4 503.8L669.7 505.2L672.1 506.0L674.4 506.2L676.8 506.0L679.1 505.6L681.5 504.9L683.8 504.3L686.2 503.8L688.5 503.6L690.9 503.7" stroke="#f57c1f" stroke-width="1.1" fill="none" stroke-linejoin="round"/>
<rect x="887.5" y="0" width="44.5" height="550" fill="#fff"/>
<rect x="0" y="524" width="932" height="26" fill="#fff"/>
<path d="M887.5 0V550M0 524.5H932M0 403.5H932M0 469.5H932" stroke="#e5e7eb" stroke-width="1" fill="none"/>
<defs><filter id="idf" x="0" y="0" width="100%" height="100%" filterUnits="userSpaceOnUse" color-interpolation-filters="sRGB"><feOffset dx="0" dy="0"/></filter></defs><g filter="url(#idf)">
<text x="893.1" y="390.4" textLength="33.0" lengthAdjust="spacingAndGlyphs" stroke="#131722" stroke-width="0.35">−10000.00</text>
<text x="893.1" y="352.5" textLength="14.0" lengthAdjust="spacingAndGlyphs" stroke="#131722" stroke-width="0.35">0.00</text>
<text x="893.1" y="314.7" textLength="28.8" lengthAdjust="spacingAndGlyphs" stroke="#131722" stroke-width="0.35">10000.00</text>
<text x="893.1" y="276.9" textLength="28.8" lengthAdjust="spacingAndGlyphs" stroke="#131722" stroke-width="0.35">20000.00</text>
<text x="893.1" y="239.1" textLength="28.8" lengthAdjust="spacingAndGlyphs" stroke="#131722" stroke-width="0.35">30000.00</text>
<text x="893.1" y="201.3" textLength="28.8" lengthAdjust="spacingAndGlyphs" stroke="#131722" stroke-width="0.35">40000.00</text>
<text x="893.1" y="163.4" textLength="28.8" lengthAdjust="spacingAndGlyphs" stroke="#131722" stroke-width="0.35">50000.00</text>
<text x="893.1" y="125.6" textLength="28.8" lengthAdjust="spacingAndGlyphs" stroke="#131722" stroke-width="0.35">60000.00</text>
<text x="893.1" y="87.8" textLength="28.8" lengthAdjust="spacingAndGlyphs" stroke="#131722" stroke-width="0.35">70000.00</text>
<text x="893.1" y="50.0" textLength="28.8" lengthAdjust="spacingAndGlyphs" stroke="#131722" stroke-width="0.35">80000.00</text>
<text x="893.1" y="10.7" textLength="28.8" lengthAdjust="spacingAndGlyphs" stroke="#131722" stroke-width="0.35">90000.00</text>
<text x="893.1" y="412.8" textLength="28.8" lengthAdjust="spacingAndGlyphs" stroke="#131722" stroke-width="0.35">100.0000</text>
<text x="893.1" y="443.5" textLength="21.9" lengthAdjust="spacingAndGlyphs" stroke="#131722" stroke-width="0.35">0.0000</text>
<text x="893.1" y="482.5" textLength="28.8" lengthAdjust="spacingAndGlyphs" stroke="#131722" stroke-width="0.35">10000.00</text>
<text x="893.1" y="511.5" textLength="14.0" lengthAdjust="spacingAndGlyphs" stroke="#131722" stroke-width="0.35">0.00</text>
<rect x="898.4" y="5.6" width="22.1" height="17" rx="3" fill="#fff" stroke="#dfe2ea" stroke-width="1"/>
<text x="900.9" y="18.0" textLength="17.6" lengthAdjust="spacingAndGlyphs" stroke="#131722" stroke-width="0.35">USDT</text>
<rect x="849.4" y="183" width="37.4" height="15" rx="2" fill="#ef5350"/>
<path d="M887.2 183h35.9a2.5 2.5 0 0 1 2.5 2.5v23.0a2.5 2.5 0 0 1 -2.5 2.5h-35.9z" fill="#ef5350"/>
<text x="852.6" y="194.6" textLength="30.4" lengthAdjust="spacingAndGlyphs" fill="#fff" stroke="#fff" stroke-width="0.2">BTCUSDT</text>
<text x="893.3" y="194.6" textLength="28.5" lengthAdjust="spacingAndGlyphs" fill="#fff" stroke="#fff" stroke-width="0.2">41702.00</text>
<text x="893.3" y="207.4" textLength="18.5" lengthAdjust="spacingAndGlyphs" fill="#fbd5d4" stroke="#fbd5d4" stroke-width="0.15">4d 8h</text>
<path d="M887.2 211.4h35.9a2.5 2.5 0 0 1 2.5 2.5v10.6a2.5 2.5 0 0 1 -2.5 2.5h-35.9z" fill="#ff9800"/>
<text x="893.3" y="223.4" textLength="28.5" lengthAdjust="spacingAndGlyphs" fill="#000" stroke="#000" stroke-width="0.35">37145.93</text>
<path d="M887.2 232.4h35.9a2.5 2.5 0 0 1 2.5 2.5v10.6a2.5 2.5 0 0 1 -2.5 2.5h-35.9z" fill="#ff9800"/>
<text x="893.3" y="244.5" textLength="28.5" lengthAdjust="spacingAndGlyphs" fill="#000" stroke="#000" stroke-width="0.35">28770.38</text>
<text x="224.1" y="541.2" textLength="16.8" lengthAdjust="spacingAndGlyphs" stroke="#131722" stroke-width="0.35">2018</text>
<text x="278.3" y="541.2" textLength="12.4" lengthAdjust="spacingAndGlyphs" stroke="#131722" stroke-width="0.35">Jun</text>
<text x="349.1" y="541.2" textLength="16.8" lengthAdjust="spacingAndGlyphs" stroke="#131722" stroke-width="0.35">2019</text>
<text x="411.7" y="541.2" textLength="9.6" lengthAdjust="spacingAndGlyphs" stroke="#131722" stroke-width="0.35">Jul</text>
<text x="471.1" y="541.2" textLength="16.8" lengthAdjust="spacingAndGlyphs" stroke="#131722" stroke-width="0.35">2020</text>
<text x="535.7" y="541.2" textLength="9.6" lengthAdjust="spacingAndGlyphs" stroke="#131722" stroke-width="0.35">Jul</text>
<text x="593.1" y="541.2" textLength="16.8" lengthAdjust="spacingAndGlyphs" stroke="#131722" stroke-width="0.35">2021</text>
<text x="647.3" y="541.2" textLength="12.4" lengthAdjust="spacingAndGlyphs" stroke="#131722" stroke-width="0.35">Jun</text>
<text x="715.6" y="541.2" textLength="16.8" lengthAdjust="spacingAndGlyphs" stroke="#131722" stroke-width="0.35">2022</text>
<text x="769.3" y="541.2" textLength="12.4" lengthAdjust="spacingAndGlyphs" stroke="#131722" stroke-width="0.35">Jun</text>
<text x="837.1" y="541.2" textLength="16.8" lengthAdjust="spacingAndGlyphs" stroke="#131722" stroke-width="0.35">2023</text>
<text x="5.3" y="18.9" textLength="120" lengthAdjust="spacingAndGlyphs" font-weight="bold">Bitcoin / TetherUS, 1W, BINANCE</text>
<text x="5.3" y="34.8" textLength="10.9" lengthAdjust="spacingAndGlyphs" stroke="#131722" stroke-width="0.35">Vol</text>
<text x="5.1" y="424.0" textLength="39.1" lengthAdjust="spacingAndGlyphs" stroke="#131722" stroke-width="0.35">TSI (3, 7, 4)</text>
<text x="5.1" y="489.9" textLength="124.2" lengthAdjust="spacingAndGlyphs" stroke="#131722" stroke-width="0.35">MACD (12, 26, close, 9, EMA, EMA)</text>
</g>
</svg></body></html>
